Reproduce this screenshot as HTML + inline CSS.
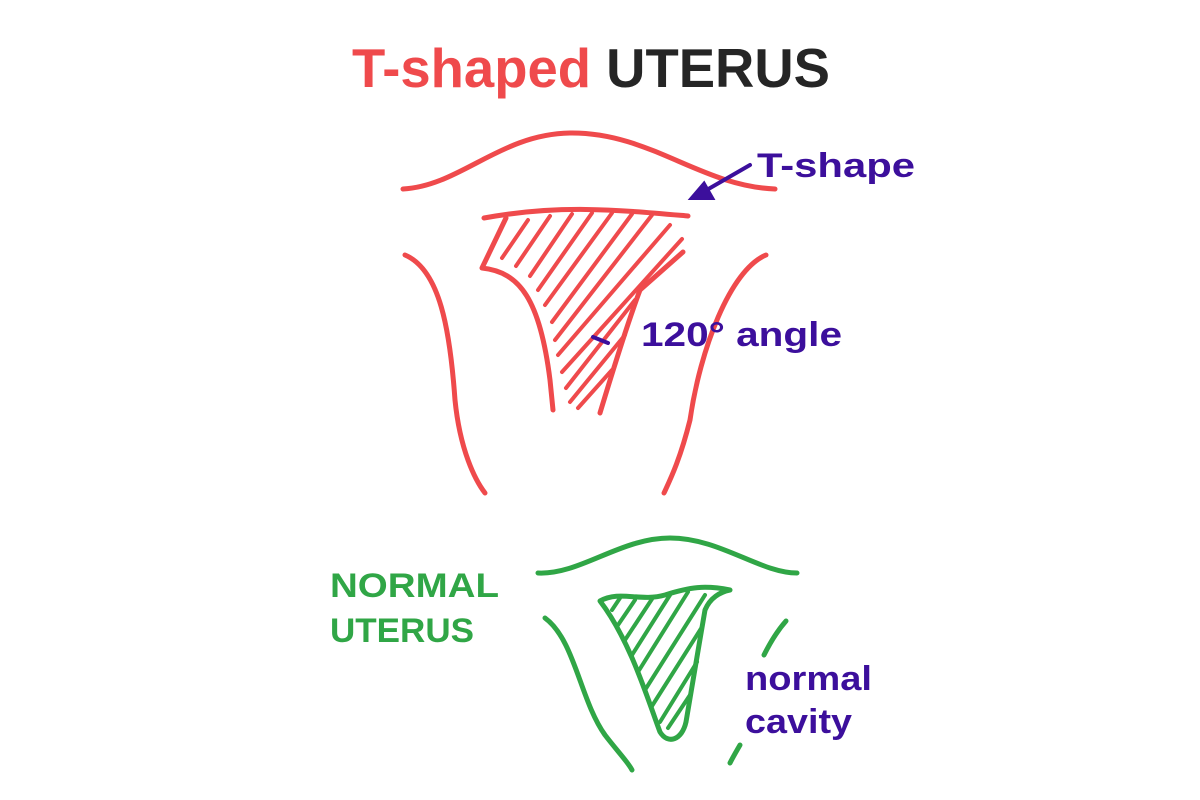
<!DOCTYPE html>
<html><head><meta charset="utf-8"><style>html,body{margin:0;padding:0;background:#fff}svg{display:block}</style></head>
<body>
<svg width="1200" height="800" viewBox="0 0 1200 800" xmlns="http://www.w3.org/2000/svg" font-family="Liberation Sans, sans-serif">
<rect width="1200" height="800" fill="#fff"/>
<text x="352" y="87" font-size="55" font-weight="bold" textLength="478" lengthAdjust="spacingAndGlyphs"><tspan fill="#ef4a4c">T-shaped </tspan><tspan fill="#252525">UTERUS</tspan></text>
<g fill="none" stroke="#ef4a4c" stroke-width="5" stroke-linecap="round" stroke-linejoin="round">
<path d="M403,189 C460,186 500,134 570,133 C650,132 700,186 775,189"/>
<path d="M484,218 C560,204 620,210 688,216"/>
<path d="M506,218 L482,268 C520,272 540,300 550,380 L553,410"/>
<path d="M683,252 L640,290 C625,330 610,380 600,413"/>
<path d="M405,255 C440,270 450,330 455,400 C460,450 475,480 485,493"/>
<path d="M766,255 C730,270 700,350 690,420 C680,460 670,480 664,493"/>
<g stroke-width="4">
<line x1="502" y1="258" x2="528" y2="220"/>
<line x1="516" y1="266" x2="550" y2="216"/>
<line x1="530" y1="276" x2="572" y2="214"/>
<line x1="538" y1="290" x2="592" y2="213"/>
<line x1="545" y1="305" x2="612" y2="213"/>
<line x1="552" y1="322" x2="632" y2="214"/>
<line x1="555" y1="340" x2="652" y2="215"/>
<line x1="558" y1="355" x2="670" y2="225"/>
<line x1="562" y1="372" x2="682" y2="239"/>
<line x1="566" y1="388" x2="635" y2="300"/>
<line x1="570" y1="402" x2="625" y2="335"/>
<line x1="578" y1="408" x2="612" y2="370"/>
</g>
</g>
<g stroke="#3c0f9c" stroke-width="4" stroke-linecap="round" fill="none">
<line x1="750" y1="165" x2="698" y2="195"/>
<path d="M692,198 L712,198 L704,184 Z" fill="#3c0f9c"/>
<line x1="593" y1="337" x2="608" y2="343"/>
</g>
<g fill="#3c0f9c" font-size="34" font-weight="bold">
<text x="757" y="177" textLength="158" lengthAdjust="spacingAndGlyphs">T-shape</text>
<text x="641" y="346" textLength="201" lengthAdjust="spacingAndGlyphs">120° angle</text>
<text x="745" y="690" textLength="127" lengthAdjust="spacingAndGlyphs">normal</text>
<text x="745" y="733" textLength="107" lengthAdjust="spacingAndGlyphs">cavity</text>
</g>
<g fill="#30a646" font-size="34" font-weight="bold">
<text x="330" y="597" textLength="169" lengthAdjust="spacingAndGlyphs">NORMAL</text>
<text x="330" y="642" textLength="144" lengthAdjust="spacingAndGlyphs">UTERUS</text>
</g>
<g fill="none" stroke="#30a646" stroke-width="5" stroke-linecap="round" stroke-linejoin="round">
<path d="M538,573 C580,575 620,538 670,538 C720,538 760,573 797,573"/>
<path d="M600,601 C620,590 640,602 665,595 C690,587 705,585 730,590 C720,592 710,598 705,610 C698,650 690,700 686,722 C682,740 668,745 660,732 C648,700 630,640 600,601 Z"/>
<path d="M545,618 C575,640 580,700 605,735 C618,752 628,762 632,770"/>
<path d="M786,621 C778,630 770,643 764,655"/>
<path d="M740,745 C736,752 733,757 730,763"/>
<g stroke-width="4">
<line x1="612" y1="610" x2="620" y2="598"/>
<line x1="618" y1="625" x2="635" y2="600"/>
<line x1="625" y1="640" x2="652" y2="599"/>
<line x1="632" y1="655" x2="670" y2="595"/>
<line x1="638" y1="672" x2="688" y2="592"/>
<line x1="645" y1="690" x2="705" y2="595"/>
<line x1="652" y1="706" x2="702" y2="627"/>
<line x1="660" y1="722" x2="697" y2="662"/>
<line x1="668" y1="728" x2="690" y2="695"/>
</g>
</g>
</svg>
</body></html>
